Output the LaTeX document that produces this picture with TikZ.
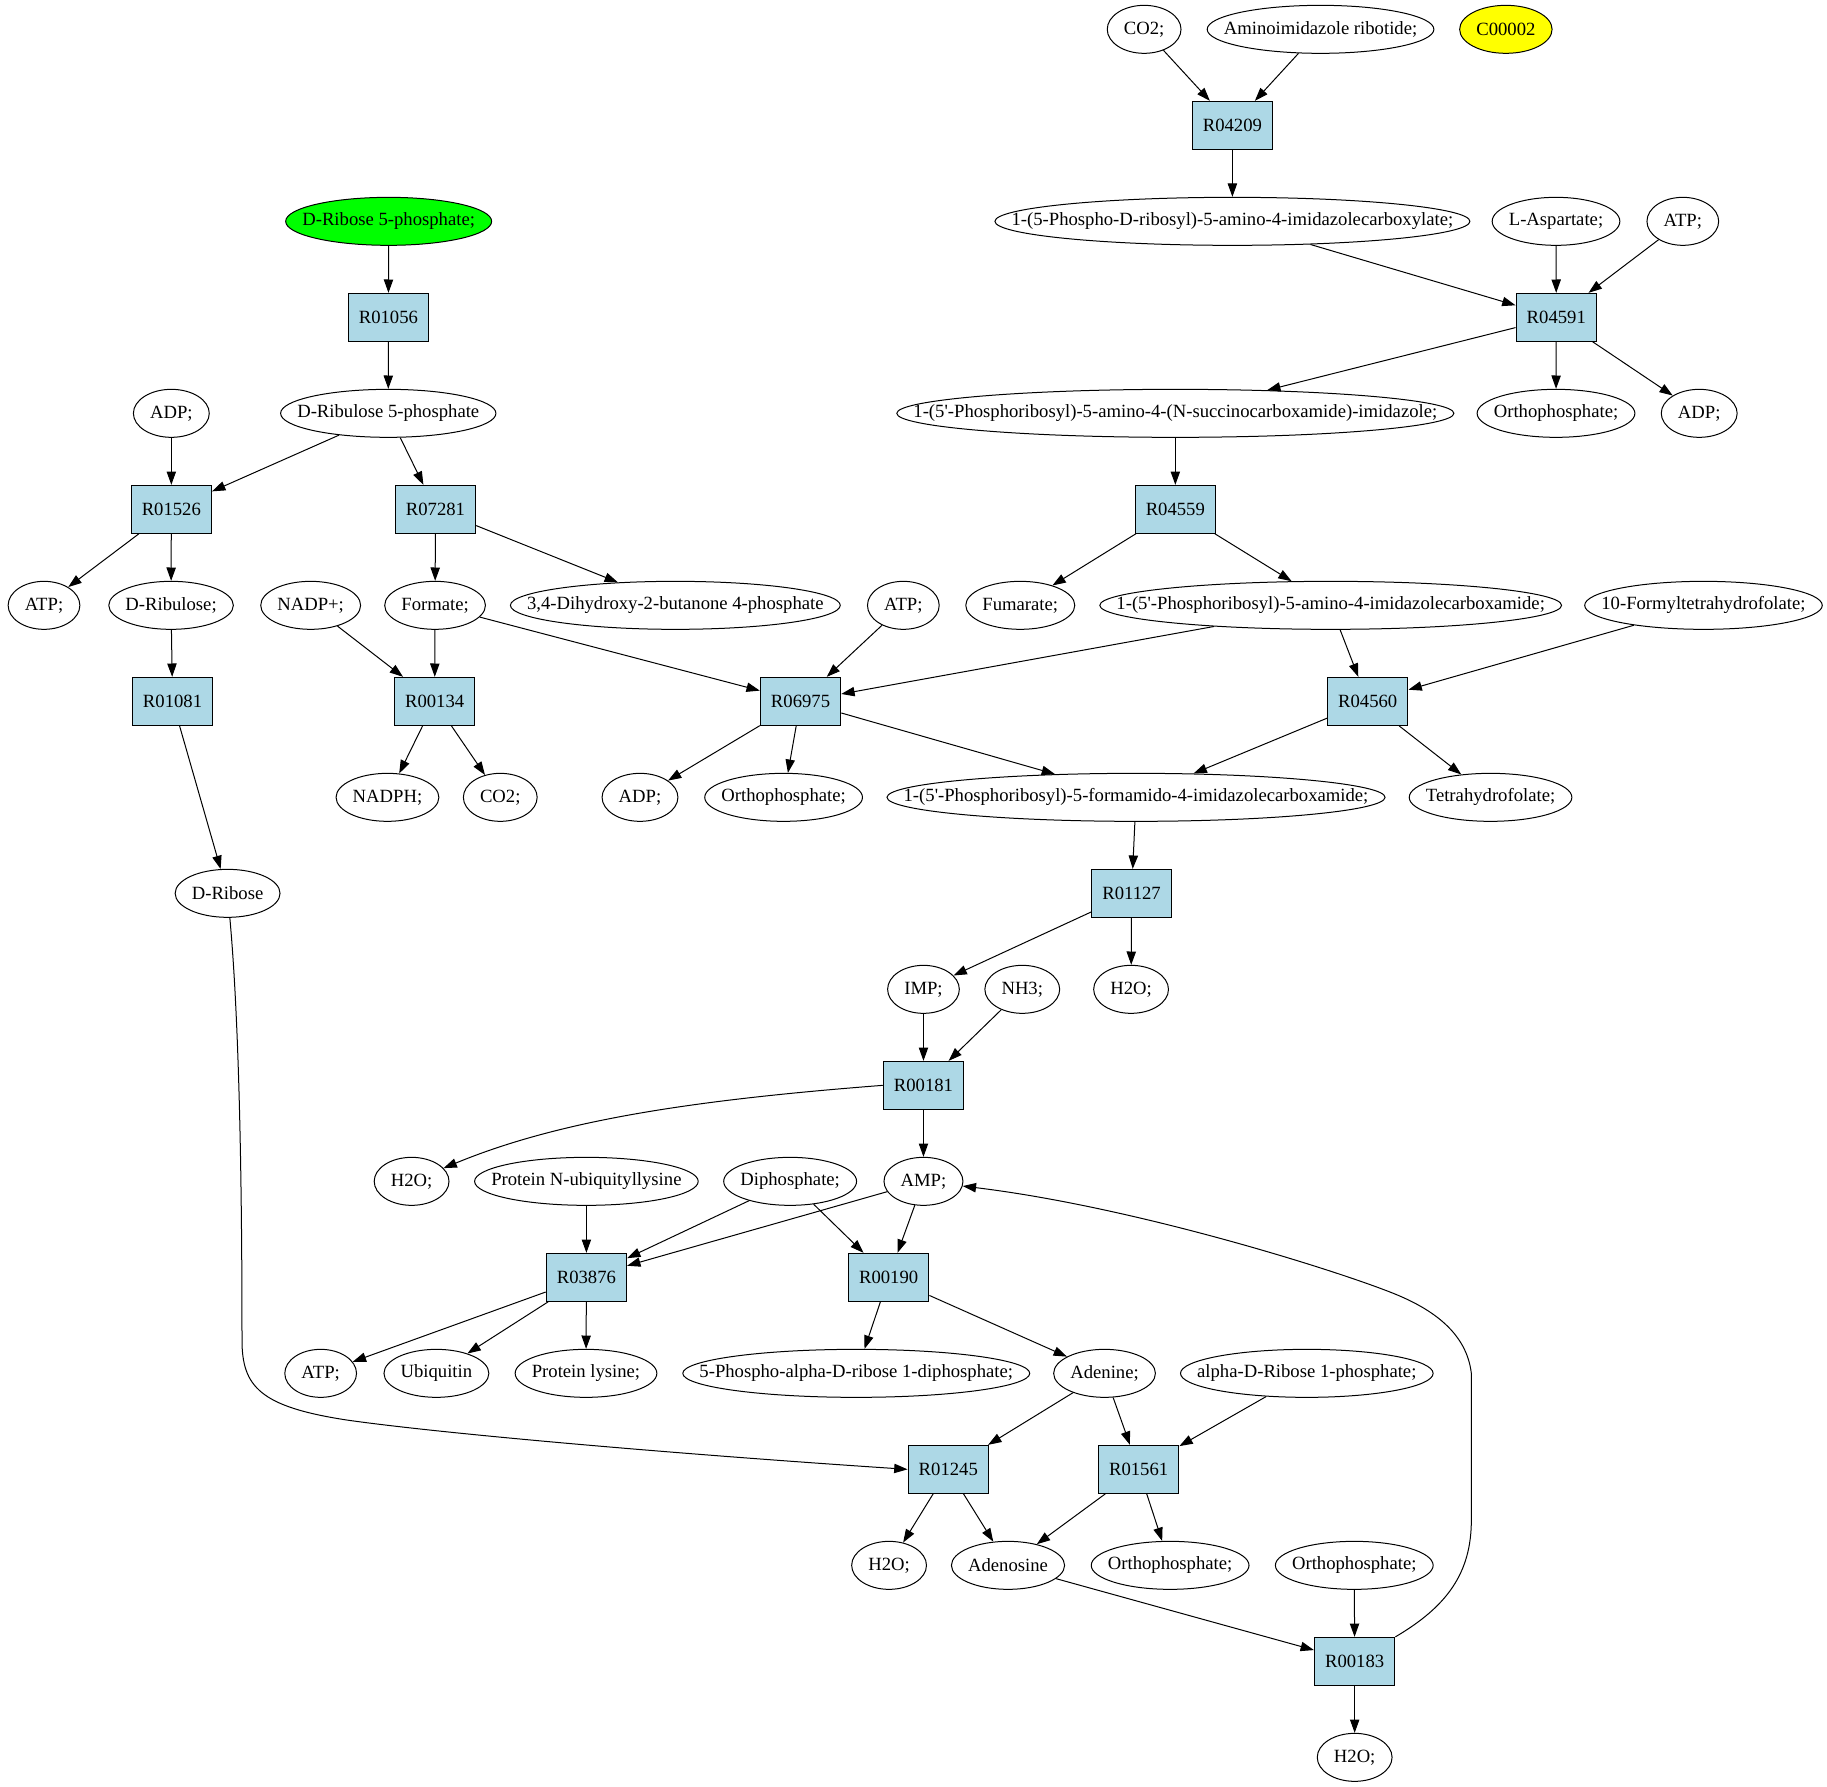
\documentclass[tikz,border=0pt]{standalone}
\usepackage{fontspec}
\setmainfont{Liberation Serif}[Ligatures=TeXOff]
\usetikzlibrary{arrows.meta,shapes.geometric}
\definecolor{rxnblue}{HTML}{ADD8E6}
\definecolor{startgreen}{HTML}{00FF00}
\definecolor{cyellow}{HTML}{FFFF00}
\newlength\metwd
\newsavebox\metbox
\newcommand\nodefnt{\fontsize{14pt}{16.8pt}\selectfont}
\newcommand\met[5][]{%
  \node[metab,#1] (#2) at (#3,{22+72*#4})
    {\sbox\metbox{#5}\global\metwd=\wd\metbox\relax\makebox[0pt]{#5}};}
\newcommand\rxn[3]{\node[rxnbox] (#1) at (#2,{22+72*#3}) {#1};}
\tikzset{
  metab/.style={ellipse, draw, line width=0.75pt, minimum height=36pt,
    minimum width={\metwd+25pt}, inner sep=0pt, font=\nodefnt},
  rxnbox/.style={rectangle, draw, fill=rxnblue, line width=0.75pt, minimum height=36pt, minimum width=54pt, inner xsep=8pt, inner ysep=0pt, font=\nodefnt},
  arr/.style={-{Triangle[length=10pt,width=7pt]}, line width=0.75pt}
}
\begin{document}
\begin{tikzpicture}[x=1pt,y=-1pt]
\path[fill=white] (0,0) rectangle (1370.25,1340.25);
\useasboundingbox (0,0) rectangle (1370.25,1340.25);
% rank 0
\met{co2a}{858.1}{0}{CO2;}
\met{amino}{990.4}{0}{Aminoimidazole ribotide;}
\met[fill=cyellow]{c00002}{1129.4}{0}{C00002}
% rank 1
\rxn{R04209}{924.3}{1}
% rank 2
\met[fill=startgreen]{drib5p}{291.5}{2}{D-Ribose 5-phosphate;}
\met{carbox}{924.3}{2}{1-(5-Phospho-D-ribosyl)-5-amino-4-imidazolecarboxylate;}
\met{lasp}{1167}{2}{L-Aspartate;}
\met{atpa}{1262.1}{2}{ATP;}
% rank 3
\rxn{R01056}{291.3}{3}
\rxn{R04591}{1167.2}{3}
% rank 4
\met{adpa}{128.5}{4}{ADP;}
\met{dribu5p}{291.2}{4}{D-Ribulose 5-phosphate}
\met{succino}{881.5}{4}{1-(5'-Phosphoribosyl)-5-amino-4-(N-succinocarboxamide)-imidazole;}
\met{orthoa}{1167}{4}{Orthophosphate;}
\met{adpb}{1274.4}{4}{ADP;}
% rank 5
\rxn{R01526}{128.5}{5}
\rxn{R07281}{326.6}{5}
\rxn{R04559}{881.5}{5}
% rank 6
\met{atpb}{33}{6}{ATP;}
\met{dribu}{128.3}{6}{D-Ribulose;}
\met{nadp}{233}{6}{NADP+;}
\met{formate}{326.3}{6}{Formate;}
\met{dihydroxy}{506.5}{6}{3,4-Dihydroxy-2-butanone 4-phosphate}
\met{atpc}{677.5}{6}{ATP;}
\met{fumarate}{765.2}{6}{Fumarate;}
\met{imidcarb}{998}{6}{1-(5'-Phosphoribosyl)-5-amino-4-imidazolecarboxamide;}
\met{formyl}{1277.6}{6}{10-Formyltetrahydrofolate;}
% rank 7
\rxn{R01081}{129.4}{7}
\rxn{R00134}{326}{7}
\rxn{R06975}{600.4}{7}
\rxn{R04560}{1025.8}{7}
% rank 8
\met{nadph}{290.6}{8}{NADPH;}
\met{co2b}{375.2}{8}{CO2;}
\met{adpc}{480}{8}{ADP;}
\met{orthob}{587.7}{8}{Orthophosphate;}
\met{formamido}{852}{8}{1-(5'-Phosphoribosyl)-5-formamido-4-imidazolecarboxamide;}
\met{thf}{1117.9}{8}{Tetrahydrofolate;}
% rank 9
\met{dribose}{170.7}{9}{D-Ribose}
\rxn{R01127}{848.7}{9}
% rank 10
\met{imp}{692.6}{10}{IMP;}
\met{nh3}{766.7}{10}{NH3;}
\met{h2oa}{848.3}{10}{H2O;}
% rank 11
\rxn{R00181}{692.6}{11}
% rank 12
\met{h2ob}{308.7}{12}{H2O;}
\met{pnub}{439.8}{12}{Protein N-ubiquityllysine}
\met{diph}{592.6}{12}{Diphosphate;}
\met{amp}{692.6}{12}{AMP;}
% rank 13
\rxn{R03876}{439.8}{13}
\rxn{R00190}{666.5}{13}
% rank 14
\met{atpd}{240.5}{14}{ATP;}
\met{ubiq}{327.3}{14}{Ubiquitin}
\met{plys}{439.5}{14}{Protein lysine;}
\met{prpp}{642.2}{14}{5-Phospho-alpha-D-ribose 1-diphosphate;}
\met{adenine}{828.4}{14}{Adenine;}
\met{ar1p}{980.1}{14}{alpha-D-Ribose 1-phosphate;}
% rank 15
\rxn{R01245}{711.2}{15}
\rxn{R01561}{854}{15}
% rank 16
\met{h2oc}{666.8}{16}{H2O;}
\met{adenosine}{756}{16}{Adenosine}
\met{orthoc}{877.6}{16}{Orthophosphate;}
\met{orthod}{1015.7}{16}{Orthophosphate;}
% rank 17
\rxn{R00183}{1016}{17}
% rank 18
\met{h2od}{1016}{18}{H2O;}
% edges
\foreach \a/\b in {co2a/R04209, amino/R04209, R04209/carbox, carbox/R04591, lasp/R04591,
  atpa/R04591, R04591/succino, R04591/orthoa, R04591/adpb, succino/R04559,
  R04559/fumarate, R04559/imidcarb, imidcarb/R06975, imidcarb/R04560, formyl/R04560,
  R04560/formamido, R04560/thf, drib5p/R01056, R01056/dribu5p, dribu5p/R01526,
  dribu5p/R07281, adpa/R01526, R01526/atpb, R01526/dribu, dribu/R01081,
  R01081/dribose, R07281/formate, R07281/dihydroxy, nadp/R00134, formate/R00134,
  formate/R06975, atpc/R06975, R00134/nadph, R00134/co2b, R06975/adpc,
  R06975/orthob, R06975/formamido, formamido/R01127, R01127/imp, R01127/h2oa,
  imp/R00181, nh3/R00181, R00181/amp, pnub/R03876, diph/R03876, diph/R00190,
  amp/R03876, amp/R00190, R03876/atpd, R03876/ubiq, R03876/plys, R00190/prpp,
  R00190/adenine, adenine/R01245, adenine/R01561, ar1p/R01561, R01245/h2oc,
  R01245/adenosine, R01561/adenosine, R01561/orthoc, adenosine/R00183,
  orthod/R00183, R00183/h2od}
  \draw[arr] (\a) -- (\b);
\draw[arr] (R00181.west) .. controls (520,825) and (420,840) .. (h2ob);
\draw[arr] (dribose) .. controls (178,750) and (181.5,850) .. (181.5,1005)
  .. controls (181.5,1040) and (195,1055) .. (260,1065)
  .. controls (330,1075) and (500,1090) .. (R01245.west);
\draw[arr] (R00183.north east) .. controls (1085,1205) and (1103.5,1180) .. (1103.5,1140)
  -- (1103.5,1030) .. controls (1100,1000) and (1075,982) .. (1045,970)
  .. controls (1000,952) and (850,905) .. (amp);
\end{tikzpicture}
\end{document}
